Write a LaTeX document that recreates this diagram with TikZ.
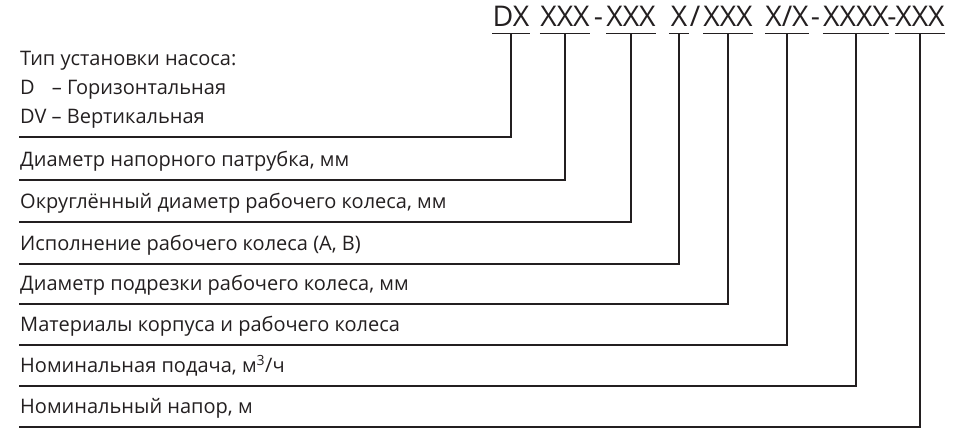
\documentclass[tikz,border=0pt]{standalone}
\usepackage{fontspec}
\setmainfont{Open Sans}
\usetikzlibrary{positioning}
\definecolor{inkgray}{RGB}{35,31,32}
\tikzset{
  codepart/.style={font=\fontsize{28.5}{28.5}\selectfont, anchor=base, inner sep=0pt,
                   text depth=6pt, text=inkgray},
  legend/.style={font=\fontsize{20}{29}\selectfont, anchor=south west, align=left,
                 inner xsep=1pt, inner ysep=13pt, text depth=0pt, text=inkgray},
  rule/.style={draw=inkgray, line width=1.1pt},
}

\begin{document}
\begin{tikzpicture}[x=1pt, y=-1pt]
  \useasboundingbox (0,0) rectangle (955,441);

  % designation code
  \node[codepart, minimum width=31] (dx) at (511,27) {DX};
  \node[codepart, minimum width=50] (dn) at (565,27) {XXX};
  \node[codepart] (sa) at (598.5,27) {-};
  \node[codepart, minimum width=49] (dw) at (631,27) {XXX};
  \node[codepart, minimum width=20] (iv) at (679,27) {X};
  \node[codepart] (sb) at (695,27) {/};
  \node[codepart, minimum width=49] (dc) at (728,27) {XXX};
  \node[codepart, minimum width=40] (mt) at (787,27) {X/X};
  \node[codepart] (sc) at (815.5,27) {-};
  \node[codepart, minimum width=65] (fq) at (856,27) {XXXX};
  \node[codepart] (sd) at (892,27) {-};
  \node[codepart, minimum width=50] (hd) at (920,27) {XXX};

  % legend lines
  \foreach \n/\y/\desc in {
      dx/137/{Тип установки насоса:\\D\hphantom{V} – Горизонтальная\\DV – Вертикальная},
      dn/180/{Диаметр напорного патрубка, мм},
      dw/222/{Округлённый диаметр рабочего колеса, мм},
      iv/264/{Исполнение рабочего колеса (А, В)},
      dc/304/{Диаметр подрезки рабочего колеса, мм},
      mt/345/{Материалы корпуса и рабочего колеса},
      fq/386/{Номинальная подача, м\textsuperscript{3}/ч},
      hd/427/{Номинальный напор, м}}{
    \draw[rule] (\n.south west) -- (\n.south east);
    \node[legend] (l\n) at (19,\y) {\desc};
    \draw[rule] (\n.south) |- (l\n.south west);
  }
\end{tikzpicture}
\end{document}
